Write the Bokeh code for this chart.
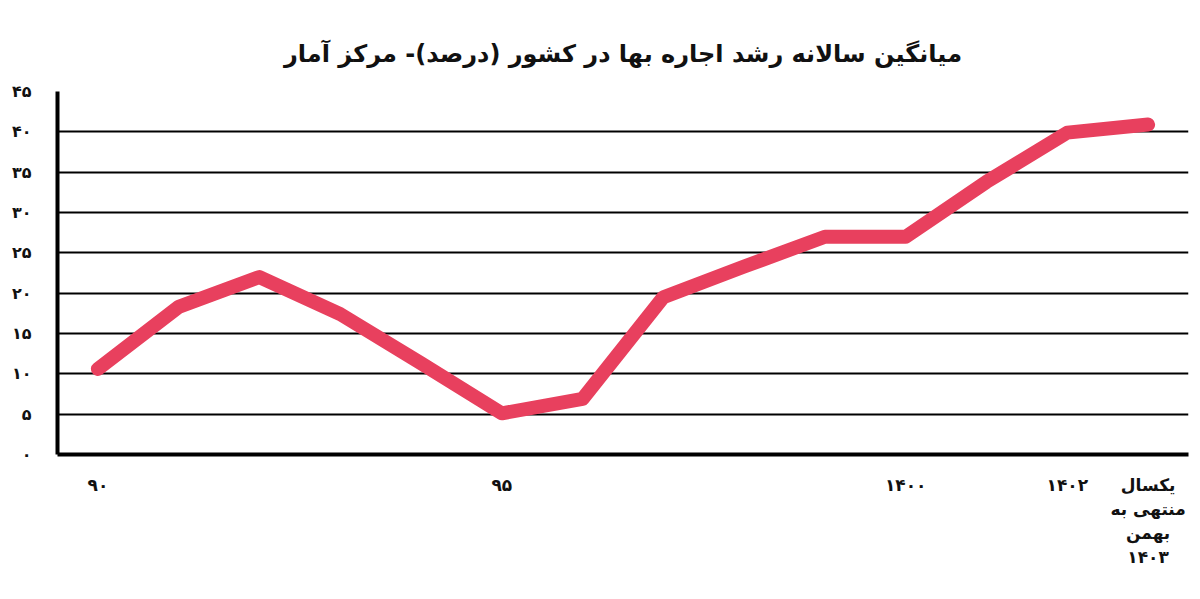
from bokeh.plotting import figure
from bokeh.embed import file_html
from bokeh.resources import INLINE
from bokeh.models import FixedTicker, Range1d

# ---- data ----
periods = ["۹۰", "۹۱", "۹۲", "۹۳", "۹۴", "۹۵", "۹۶", "۹۷", "۹۸", "۹۹",
           "۱۴۰۰", "۱۴۰۱", "۱۴۰۲", "یکسال\nمنتهی به\nبهمن\n۱۴۰۳"]
growth = [10.6, 18.3, 22.0, 17.4, 11.3, 5.1, 6.9, 19.5, 23.3, 27.0,
          27.0, 33.8, 39.9, 40.9]
labelled_periods = [0, 5, 10, 12, 13]
y_ticks = [0, 5, 10, 15, 20, 25, 30, 35, 40, 45]
y_tick_labels = ["۰", "۵", "۱۰", "۱۵", "۲۰", "۲۵", "۳۰", "۳۵", "۴۰", "۴۵"]
title_text = "میانگین سالانه رشد اجاره بها در کشور (درصد)- مرکز آمار"

FONT = "DejaVu Sans"

x_idx = list(range(len(periods)))

p = figure(width=1192, height=591, output_backend="svg", toolbar_location=None,
           x_range=Range1d(-0.5, 13.5), y_range=Range1d(0, 45),
           min_border_left=57, min_border_right=4, min_border_top=91,
           min_border_bottom=137)

p.title.text = title_text
p.title.align = "center"
p.title.text_font = FONT
p.title.text_font_size = "24px"
p.title.text_font_style = "bold"
p.title.text_color = "#111111"
p.title.offset = 0
p.title.standoff = 48

p.background_fill_color = "white"
p.border_fill_color = "white"
p.outline_line_color = None

# grid
p.xgrid.grid_line_color = None
p.ygrid.grid_line_color = "black"
p.ygrid.grid_line_width = 2
p.ygrid.ticker = FixedTicker(ticks=y_ticks)

# y axis
p.yaxis.ticker = FixedTicker(ticks=y_ticks)
p.yaxis.major_label_overrides = {t: l for t, l in zip(y_ticks, y_tick_labels)}
p.yaxis.axis_line_width = 4
p.yaxis.axis_line_color = "black"
p.yaxis.major_tick_line_color = None
p.yaxis.minor_tick_line_color = None
p.yaxis.major_label_text_font = FONT
p.yaxis.major_label_text_font_size = "16px"
p.yaxis.major_label_text_font_style = "bold"
p.yaxis.major_label_text_color = "#111111"
p.yaxis.major_label_standoff = 20

# x axis
p.xaxis.ticker = FixedTicker(ticks=labelled_periods)
p.xaxis.major_label_overrides = {i: periods[i] for i in labelled_periods}
p.xaxis.axis_line_width = 4
p.xaxis.axis_line_color = "black"
p.xaxis.major_tick_line_color = None
p.xaxis.minor_tick_line_color = None
p.xaxis.major_label_text_font = FONT
p.xaxis.major_label_text_font_size = "17px"
p.xaxis.major_label_text_font_style = "bold"
p.xaxis.major_label_text_color = "#111111"
p.xaxis.major_label_standoff = 14

p.line(x_idx, growth, line_color="#E8405E", line_width=14,
       line_cap="round", line_join="round")

open("out.html", "w").write(file_html(p, INLINE))
